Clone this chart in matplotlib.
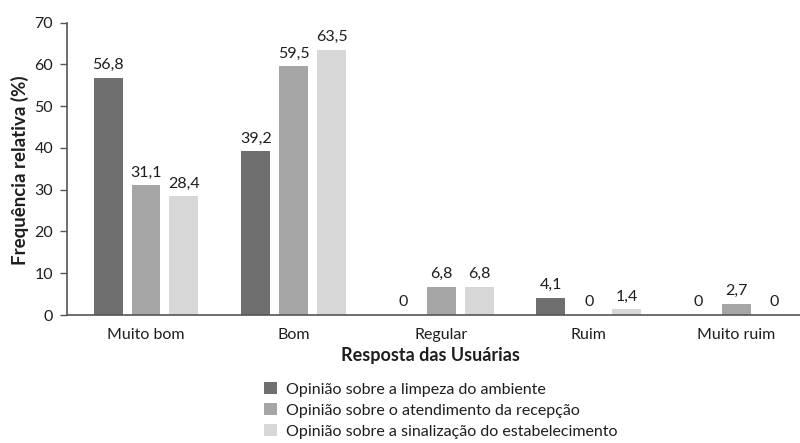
import matplotlib
matplotlib.use("Agg")
import matplotlib.pyplot as plt
import numpy as np
from matplotlib.patches import Patch

categories = ["Muito bom", "Bom", "Regular", "Ruim", "Muito ruim"]
limpeza = [56.8, 39.2, 0, 4.1, 0]
recepcao = [31.1, 59.5, 6.8, 0, 2.7]
sinalizacao = [28.4, 63.5, 6.8, 1.4, 0]
series_labels = [
    "Opinião sobre a limpeza do ambiente",
    "Opinião sobre o atendimento da recepção",
    "Opinião sobre a sinalização do estabelecimento",
]
yticks = [0, 10, 20, 30, 40, 50, 60, 70]

colors = ["#6f6f6f", "#a5a5a5", "#d7d7d7"]
text_color = "#1e1e1e"
axis_color = "#555555"

plt.rcParams["font.family"] = ["Lato", "DejaVu Sans"]
fs = 11.5

fig = plt.figure(figsize=(8, 4.43), dpi=100)
ax = fig.add_axes([0.08375, 0.2889, 0.9163, 0.66])

x = np.arange(len(categories))
width = 0.196
step = 0.257

for i, (vals, col) in enumerate(zip([limpeza, recepcao, sinalizacao], colors)):
    pos = x + (i - 1) * step
    ax.bar(pos, vals, width=width, color=col, edgecolor="none")
    for p, v in zip(pos, vals):
        label = f"{v:.1f}".replace(".", ",") if v != 0 else "0"
        ax.annotate(label, (p, v), xytext=(0, 4), textcoords="offset points",
                    ha="center", va="bottom", fontsize=fs, color=text_color)

ax.set_xlim(-0.535, 4.43)
ax.set_ylim(0, 70)
ax.set_yticks(yticks)
ax.set_yticklabels([str(t) for t in yticks], fontsize=fs, color=text_color)
ax.set_xticks(x)
ax.set_xticklabels(categories, fontsize=fs, color=text_color)
ax.tick_params(axis="x", length=0, pad=9)
ax.tick_params(axis="y", length=5, width=1, color=axis_color, pad=5)

for side in ["top", "right"]:
    ax.spines[side].set_visible(False)
for side in ["left", "bottom"]:
    ax.spines[side].set_color(axis_color)
    ax.spines[side].set_linewidth(1.2)

fig.text(20 / 800, 1 - 170 / 443, "Frequência relativa (%)", fontsize=13.5,
         fontweight="bold", color=text_color, ha="center", va="center",
         rotation=90)
fig.text(0.5375, 1 - 355 / 443, "Resposta das Usuárias", fontsize=13,
         fontweight="bold", color=text_color, ha="center", va="center")

handles = [Patch(facecolor=c, edgecolor="none") for c in colors]
fig.legend(handles, series_labels, loc="upper left",
           bbox_to_anchor=(264 / 800, 1 - 382 / 443), frameon=False,
           fontsize=fs, labelcolor=text_color, handlelength=0.8,
           handleheight=0.8, handletextpad=0.6, labelspacing=0.4,
           borderpad=0, borderaxespad=0)

fig.savefig("out.png", dpi=100, facecolor="white")
